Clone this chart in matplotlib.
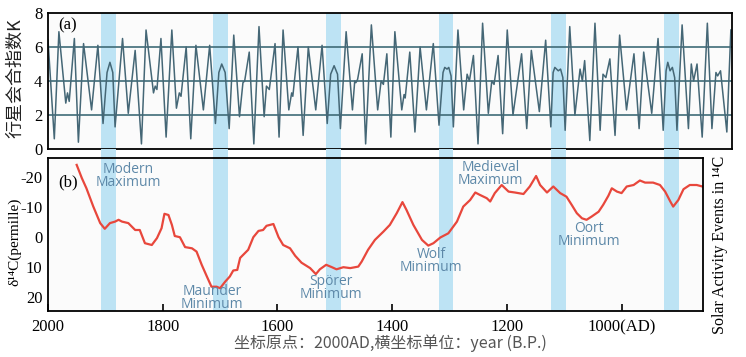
import matplotlib
matplotlib.use('Agg')
import matplotlib.pyplot as plt

# planetary conjunction index K (panel a)
k_years = [2000,1989,1981,1969,1966,1963,1954,1947,1938,1924,
           1913,1904,1897,1892,1887,1883,1870,1860,1848,1837,
           1829,1816,1813,1810,1803,1794,1784,1776,1771,1768,
           1759,1751,1742,1729,1718,1708,1702,1697,1691,1684,
           1676,1666,1660,1657,1649,1641,1632,1623,1619,1614,
           1604,1597,1590,1580,1575,1573,1564,1555,1546,1533,
           1522,1513,1507,1501,1495,1490,1480,1469,1465,1463,
           1460,1452,1446,1436,1425,1419,1415,1409,1402,1395,
           1383,1379,1377,1369,1360,1351,1340,1328,1318,1311,
           1308,1304,1301,1297,1293,1285,1275,1269,1265,1258,
           1250,1242,1232,1226,1222,1215,1207,1199,1189,1174,
           1165,1157,1143,1132,1123,1119,1116,1110,1106,1102,
           1098,1090,1081,1072,1068,1064,1055,1046,1037,1032,
           1027,1020,1011,1003,991,978,969,961,947,936,
           927,922,919,915,911,907,903,894,883,878,
           874,868,859,850,842,835,832,827,816,809]
k_vals = [6.4,0.6,6.9,2.7,3.3,2.8,6.5,0.4,6.2,2.3,
          6.1,1.5,4.5,5.1,4.5,1.3,6.5,2.1,5.8,0.3,
          7.0,3.3,3.7,3.5,6.5,0.7,7.0,2.4,3.3,3.1,
          6.0,0.6,6.1,2.3,6.1,1.5,4.5,5.0,4.5,1.2,
          6.7,1.9,3.9,4.0,5.7,0.3,7.2,1.9,3.7,3.5,
          6.2,0.7,7.0,2.3,3.3,3.1,6.0,0.8,6.0,2.3,
          6.1,1.5,4.4,4.9,4.4,1.2,6.9,2.3,4.0,3.9,
          4.1,5.6,0.3,7.3,2.3,4.0,3.8,5.6,0.7,6.9,
          2.3,3.2,3.0,5.7,1.0,6.0,2.3,6.2,1.4,4.5,
          4.8,4.7,4.8,4.3,1.3,7.0,2.3,4.4,4.0,5.5,
          0.3,7.4,2.1,4.0,3.8,5.5,0.9,7.0,2.0,5.6,
          1.2,5.8,2.2,6.4,1.3,4.5,4.8,4.6,4.7,4.2,
          1.1,7.2,2.0,4.7,4.0,5.2,0.5,7.4,1.1,4.4,
          4.2,5.3,0.8,6.7,2.3,5.6,1.2,5.7,2.1,6.5,
          1.1,4.6,5.1,4.6,4.8,4.2,1.1,7.3,1.2,5.0,
          4.0,5.0,0.7,7.4,1.2,4.5,4.3,4.6,1.0,7.0]

# delta 14C (panel b)
c14_years = [1950,1941,1933,1921,1909,1901,1892,1883,1877,1871,
             1860,1848,1840,1831,1825,1819,1810,1802,1797,1790,
             1784,1779,1770,1761,1749,1741,1732,1723,1715,1706,
             1700,1691,1683,1677,1670,1665,1651,1642,1633,1625,
             1619,1607,1598,1590,1578,1569,1558,1543,1533,1526,
             1515,1505,1497,1485,1473,1459,1453,1442,1430,1415,
             1404,1392,1382,1375,1363,1348,1337,1328,1316,1302,
             1287,1276,1264,1255,1247,1235,1229,1221,1209,1197,
             1186,1171,1160,1149,1142,1130,1119,1107,1096,1087,
             1078,1069,1061,1052,1040,1032,1023,1017,1008,1000,
             991,979,968,959,945,933,924,915,910,901,
             892,881,869,859]
c14_vals = [-24,-19.6,-16.2,-10.1,-4.6,-2.7,-4.6,-5.1,-5.7,-5.1,
            -4.6,-2.3,-2.3,2.1,2.4,2.7,0.4,-2.9,-7.7,-7.3,
            -4,-0.3,0.1,3.4,3.8,4.9,9.3,13.2,16.6,16.6,
            17.1,14.9,13.2,11.2,11.0,7.0,4.3,0.1,-2,-2.3,
            -3.7,-4.3,0.1,2.7,3.8,6.3,8.6,10.4,12.4,10.8,
            9.3,10.1,10.8,10.1,10.4,9.9,8.2,4.3,1,-1.8,
            -4,-7.9,-11.6,-9,-4,1,2.9,2.1,0.2,-1.2,
            -5.1,-10.1,-12.3,-14.8,-14,-12.9,-11.8,-14.6,-17.3,-15.1,
            -14.8,-14.3,-16.8,-20.3,-17.3,-14.8,-16.8,-14.6,-13.4,-10.7,
            -7.9,-6.2,-5.7,-6.8,-8.4,-10.7,-13.7,-16.2,-15.1,-14.6,
            -16.8,-17.3,-18.8,-18.1,-18.1,-17.3,-15.1,-11.8,-10.1,-12.3,
            -15.9,-17.3,-17.3,-16.8]

band_start = [1908, 1712, 1515, 1318, 1123, 926]
band_end = [1881, 1686, 1489, 1294, 1097, 900]

events = ['Modern\nMaximum', 'Maunder\nMinimum', 'Spörer\nMinimum',
          'Wolf\nMinimum', 'Medieval\nMaximum', 'Oort\nMinimum']
event_x = [1860, 1714, 1507, 1332, 1228, 1057]
event_y = [-20.3, 20.3, 17.0, 8.0, -21.0, -0.7]

xticks = [2000, 1800, 1600, 1400, 1200, 1000]
xticklabels = ['2000', '1800', '1600', '1400', '1200', '1000(AD)']

serif = ['Liberation Serif', 'DejaVu Serif']
band_color = '#bde3f4'

fig = plt.figure(figsize=(7.46, 3.57), dpi=100)
ax1 = fig.add_axes([48/746, 208/357, 684/746, 136/357])
ax2 = fig.add_axes([48/746, 46/357, 655/746, 153/357])

# panel a
for s, e in zip(band_start, band_end):
    ax1.axvspan(s, e, color=band_color, lw=0, zorder=0)
for h in [2, 4, 6]:
    ax1.axhline(h, color='#3f6b78', lw=1.2, zorder=1)
ax1.plot(k_years, k_vals, color='#456776', lw=1.1, zorder=2,
         solid_joinstyle='round')
ax1.set_xlim(2000, 807)
ax1.set_ylim(0, 8)
ax1.set_xticks([])
ax1.set_yticks([0, 2, 4, 6, 8])
ax1.tick_params(axis='y', length=0, pad=4)
for t in ax1.get_yticklabels():
    t.set_family(serif)
    t.set_fontsize(12)
ax1.set_facecolor('#fbfbfb')
for sp in ax1.spines.values():
    sp.set_linewidth(1.3)
ax1.text(0.015, 0.97, '(a)', transform=ax1.transAxes, ha='left', va='top',
         family=serif, fontsize=12)

# panel b
for s, e in zip(band_start, band_end):
    ax2.axvspan(s, e, ymin=0, ymax=1.06, color=band_color, lw=0, zorder=0, clip_on=False)
ax2.plot(c14_years, c14_vals, color='#e8473c', lw=1.6, zorder=2)
for lab, x, y in zip(events, event_x, event_y):
    ax2.text(x, y, lab, ha='center', va='center', color='#5d88a8',
             family=['Open Sans', 'DejaVu Sans'], fontsize=10, linespacing=0.85, zorder=3)
ax2.set_xlim(2000, 858)
ax2.set_ylim(24.7, -26.3)
ax2.set_xticks(xticks)
ax2.set_xticklabels(xticklabels)
ax2.set_yticks([-20, -10, 0, 10, 20])
ax2.set_yticklabels(['-20', '-10', '0', '10', '20'])
ax2.tick_params(axis='x', direction='in', length=5, width=1.2, pad=6)
ax2.tick_params(axis='y', length=0, pad=4)
for t in ax2.get_xticklabels() + ax2.get_yticklabels():
    t.set_family(serif)
    t.set_fontsize(12)
ax2.set_facecolor('#fbfbfb')
for sp in ax2.spines.values():
    sp.set_linewidth(1.3)
ax2.text(0.015, 0.84, '(b)', transform=ax2.transAxes, ha='left', va='center',
         family=serif, fontsize=12)

fig.text(15/746, 1 - 78/357, '行星会合指数K', rotation=90, ha='center', va='center',
         family=['Noto Sans CJK SC', 'DejaVu Sans'], fontsize=13, color='#222222')
fig.text(15/746, 1 - 242/357, 'δ¹⁴C(permille)', rotation=90, ha='center', va='center',
         family=serif, fontsize=11)
fig.text(720/746, 1 - 245/357, 'Solar Activity Events in ¹⁴C', rotation=90,
         ha='center', va='center', family=serif, fontsize=11.5)
fig.text(390/746, 1 - 343/357, '坐标原点：2000AD,横坐标单位：year (B.P.)',
         ha='center', va='center', family=['Noto Sans CJK SC', 'DejaVu Sans'],
         fontsize=11.5, color='#555555')

fig.savefig('out.png', dpi=100)
